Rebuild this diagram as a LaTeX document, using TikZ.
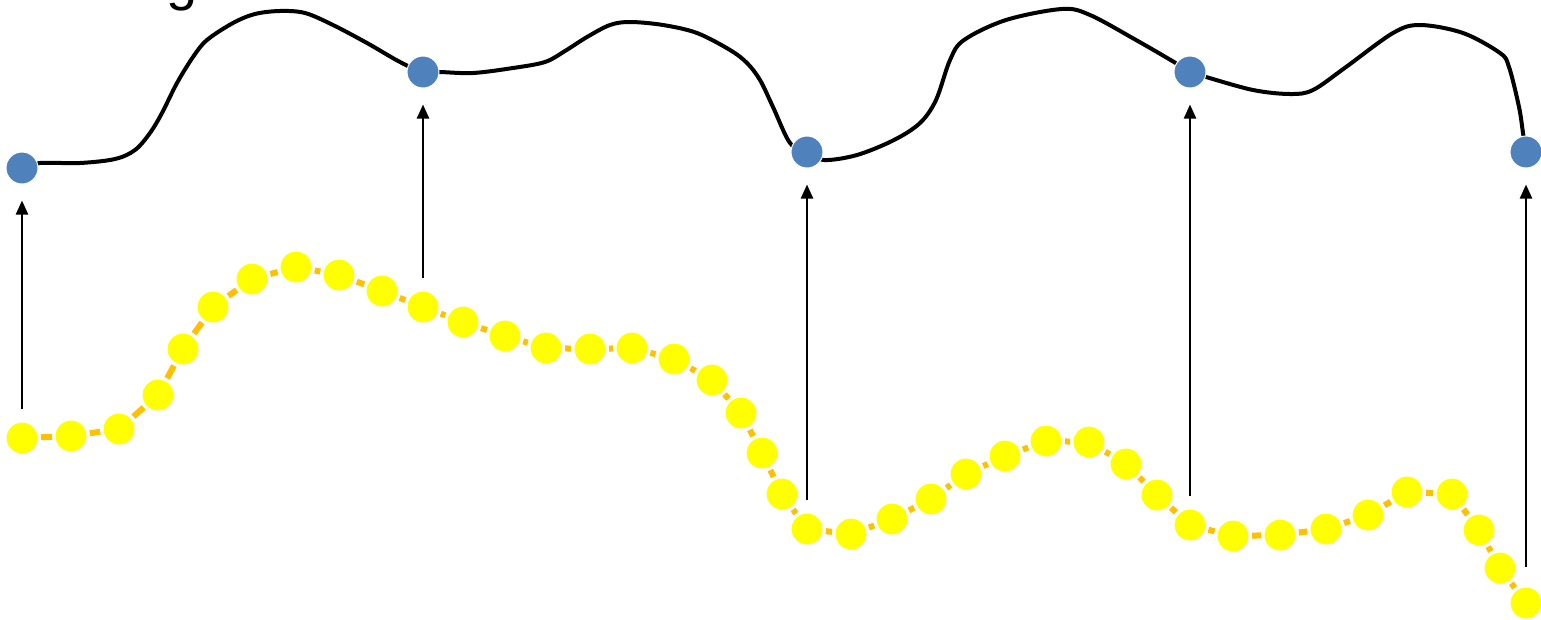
\documentclass[tikz,border=0pt]{standalone}
\usepackage{fontspec}
\setmainfont{Liberation Sans}
\usetikzlibrary{arrows.meta,backgrounds}
\definecolor{DotBlue}{HTML}{4F81BD}
\definecolor{DotYellow}{HTML}{FFFF00}
\definecolor{LinkOrange}{HTML}{FFC000}

\begin{document}
\begin{tikzpicture}[
	x=1pt, y=-1pt, % pixel-like units, y grows downward
	% Style for the blue samples on the upper curve
	kept node/.style={
		circle,
		fill=DotBlue,
		draw=white,           % thin white rim
		line width=1pt,
		minimum size=32pt,
		inner sep=0pt
	},
	% Style for the yellow samples on the lower curve
	sample node/.style={
		circle,
		fill=DotYellow,
		draw=white,
		line width=1pt,
		minimum size=32pt,
		inner sep=0pt
	},
	% Style for the upper black curve
	signal/.style={
		draw=black,
		line width=4pt,
		line cap=round
	},
	% Style for the orange pieces between yellow samples
	link/.style={
		draw=LinkOrange,
		line width=6pt,
		shorten >=2.5pt,
		shorten <=2.5pt
	},
	% Style for the upward arrows
	pick/.style={
		draw=black,
		line width=2.3pt,
		-{Triangle[width=12pt,length=14pt]},
		shorten <=13pt,
		shorten >=16pt
	}
	]
	\useasboundingbox (0,0) rectangle (1541,619);
	
	% 1. Title (only its lowest part is on the page)
	\node[font=\fontsize{56}{60}\selectfont, inner sep=0pt, anchor=base] (title) at (182,-1) {g};
	
	% 2. Blue samples
	\node[kept node] (b1) at (22,168) {};
	\node[kept node] (b2) at (423,72) {};
	\node[kept node] (b3) at (807,152) {};
	\node[kept node] (b4) at (1190,72) {};
	\node[kept node] (b5) at (1526,152) {};
	
	% 3. Upper curve behind the blue samples
	\begin{scope}[on background layer]
		\draw[signal] plot[smooth, tension=0.55] coordinates {
			(b1) (40,163) (80,163) (115,159) (135,150) (150,133) (162,113) (177,83) (193,57)
			(207,40) (233,23) (255,14) (280,11) (305,13) (333,25) (367,43) (400,62)
			(b2) (440,72) (473,73) (513,68) (545,62) (565,51) (587,37) (610,25) (630,22)
			(663,25) (697,33) (730,50) (747,63) (760,80) (773,107) (790,143)
			(b3) (824,160) (857,155) (894,140) (920,123) (936,100) (950,60) (964,40)
			(1006,20) (1062,9) (1090,15) (1136,40) (1174,62)
			(b4) (1206,77) (1253,90) (1290,94) (1313,90) (1346,67) (1393,33) (1420,25)
			(1463,33) (1500,53) (1509,67) (1519,107) (1523,133) (b5)};
	\end{scope}
	
	% 4. Yellow samples and the dashes between them
	\foreach \px/\py [count=\i] in {22/438, 71/436, 119/429, 158/395, 183/349, 213/307,
		252/279, 296/267, 339/275, 382/291, 423/307, 463/322, 505/336, 546/348, 590/349,
		632/348, 674/359, 712/380, 741/413, 762/453, 782/494, 807/529, 851/534, 892/519,
		931/499, 966/474, 1005/456, 1046/441, 1089/442, 1126/464, 1157/495, 1190/525,
		1233/536, 1280/535, 1326/529, 1368/515, 1407/492, 1452/494, 1479/530, 1500/568,
		1526/603}
		\node[sample node] (y\i) at (\px,\py) {};
	\foreach \i [evaluate=\i as \j using {int(\i+1)}] in {1,...,40}
		\draw[link] (y\i) -- (y\j);
	
	% 5. Arrows from the picked yellow samples up to the blue ones
	\draw[pick] (y1) -- (b1);
	\draw[pick] (y11) -- (b2);
	\draw[pick] (y22) -- (b3);
	\draw[pick] (y32) -- (b4);
	\draw[pick, shorten <=20pt] (y41) -- (b5);
	
\end{tikzpicture}
\end{document}
